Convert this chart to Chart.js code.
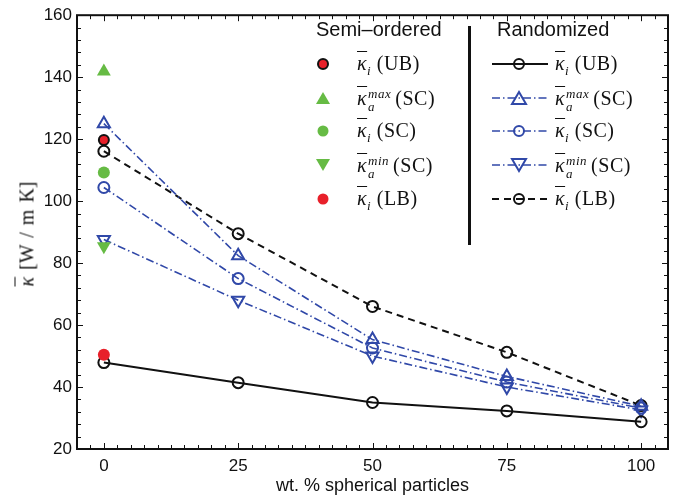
<!DOCTYPE html>
<html>
<head>
<meta charset="utf-8">
<script src="https://cdn.jsdelivr.net/npm/chart.js@4/dist/chart.umd.min.js"></script>
<style>
  body { margin: 0; background: #fff; }
  #wrap { position: relative; width: 682px; height: 497px; }
  .lg { position: absolute; font-family: "Liberation Serif", serif; font-size: 20px; color: #111; white-space: nowrap; line-height: 1; letter-spacing: 0.5px; }
  .ttl { position: absolute; font-family: "Liberation Sans", Arial, sans-serif; font-size: 20px; color: #111; line-height: 1; }
  .k { font-style: italic; text-decoration: overline; text-decoration-thickness: 1px; }
  .ss { display: inline-block; vertical-align: middle; font-style: italic; font-size: 13px; line-height: 1; margin: 0 4px 0 1px; letter-spacing: 0.5px; }
  .ss span { display: block; }
  sub { font-style: italic; font-size: 13px; }
  .mk { position: absolute; }
  #ylab { position: absolute; left: 27px; top: 234px; transform: translate(-50%, -50%) rotate(-90deg); font-family: "Liberation Serif", serif; font-size: 20px; white-space: nowrap; color: #111; word-spacing: 2px; }
</style>
</head>
<body>
<div id="wrap">
  <canvas id="chart" width="682" height="497"></canvas>
  <div id="ylab"><span class="k">κ</span> [W / m K]</div>
  <div id="legend"></div>
</div>
<script>
// x positions (wt. % spherical particles)
const xVals = [0, 25, 50, 75, 100];

// randomized series
const ubRand = [47.9, 41.4, 35.0, 32.3, 28.8];
const lbRand = [116.1, 89.5, 66.0, 51.2, 34.0];
const maxRand = [125.0, 82.4, 55.3, 43.4, 33.8];
const scRand = [104.4, 75.0, 52.6, 41.6, 33.2];
const minRand = [87.6, 68.0, 50.0, 40.0, 32.6];

// semi-ordered (only at 0 %)
const semiX = 0;
const ubSemi = 119.7;
const maxSemi = 141.8;
const scSemi = 109.2;
const minSemi = 85.4;
const lbSemi = 50.4;

const blue = '#3048a8';
const green = '#66bb44';
const red = '#e8202a';

function pts(ys) {
    return ys.map((y, i) => ({ x: xVals[i], y: y }));
}

function semi(y, style, color, r, border, bw, rot) {
    return {
        data: [{ x: semiX, y: y }],
        showLine: false,
        pointStyle: style,
        pointRadius: r,
        pointRotation: rot || 0,
        pointBackgroundColor: color,
        pointBorderColor: border || color,
        pointBorderWidth: bw || 0
    };
}

function rand(ys, color, dash, style, r, rot, width) {
    return {
        data: pts(ys),
        borderColor: color,
        borderWidth: width,
        borderDash: dash,
        tension: 0,
        fill: false,
        pointStyle: style,
        pointRadius: r,
        pointRotation: rot || 0,
        pointBackgroundColor: 'rgba(0,0,0,0)',
        pointBorderColor: color,
        pointBorderWidth: 2
    };
}

const dashDot = [8, 3, 1.5, 3];

// inward ticks + box, MATLAB style
const boxTicks = {
    id: 'boxTicks',
    afterDraw(chart) {
        const { ctx, chartArea: a, scales } = chart;
        const xs = scales.x, ys = scales.y;
        ctx.save();
        ctx.strokeStyle = '#111';
        ctx.lineWidth = 1;
        for (let v = -5; v <= 105; v += 2.5) {
            const px = Math.round(xs.getPixelForValue(v)) + 0.5;
            const len = v % 25 === 0 ? 6 : 4;
            ctx.beginPath();
            ctx.moveTo(px, a.bottom); ctx.lineTo(px, a.bottom - len);
            ctx.moveTo(px, a.top); ctx.lineTo(px, a.top + len);
            ctx.stroke();
        }
        for (let v = 20; v <= 160; v += 4) {
            const py = Math.round(ys.getPixelForValue(v)) + 0.5;
            const len = v % 20 === 0 ? 6 : 4;
            ctx.beginPath();
            ctx.moveTo(a.left, py); ctx.lineTo(a.left + len, py);
            ctx.moveTo(a.right, py); ctx.lineTo(a.right - len, py);
            ctx.stroke();
        }
        ctx.lineWidth = 2;
        ctx.strokeRect(a.left, a.top, a.right - a.left, a.bottom - a.top);
        ctx.restore();
    }
};

new Chart(document.getElementById('chart'), {
    type: 'line',
    data: {
        datasets: [
            semi(ubSemi, 'circle', red, 5, '#111', 2),
            semi(maxSemi, 'triangle', green, 8),
            semi(scSemi, 'circle', green, 6),
            semi(minSemi, 'triangle', green, 8, null, 0, 180),
            semi(lbSemi, 'circle', red, 6),
            rand(ubRand, '#111', [], 'circle', 5.5, 0, 2),
            rand(maxRand, blue, dashDot, 'triangle', 7, 0, 1.6),
            rand(scRand, blue, dashDot, 'circle', 5.5, 0, 1.6),
            rand(minRand, blue, dashDot, 'triangle', 7, 180, 1.6),
            rand(lbRand, '#111', [7, 5], 'circle', 5.5, 0, 2)
        ]
    },
    options: {
        responsive: false,
        animation: false,
        devicePixelRatio: 1,
        layout: { padding: { left: 0, top: 12, right: 14, bottom: 0 } },
        plugins: { legend: { display: false }, tooltip: { enabled: false } },
        scales: {
            x: {
                type: 'linear',
                min: -5,
                max: 105,
                afterBuildTicks: s => { s.ticks = xVals.map(v => ({ value: v })); },
                afterFit: s => { s.height = 48; },
                grid: { display: false, drawTicks: false },
                border: { display: false },
                ticks: { color: '#111', padding: 7, font: { family: 'Liberation Sans', size: 17 } },
                title: {
                    display: true,
                    text: 'wt. % spherical particles',
                    color: '#111',
                    padding: { top: 0, bottom: 0 },
                    font: { family: 'Liberation Sans', size: 18 }
                }
            },
            y: {
                min: 20,
                max: 160,
                afterFit: s => { s.width = 77; },
                grid: { display: false, drawTicks: false },
                border: { display: false },
                ticks: { stepSize: 20, color: '#111', padding: 5, font: { family: 'Liberation Sans', size: 17 } }
            }
        }
    },
    plugins: [boxTicks]
});

// legend (HTML overlay)
const k = '<span class="k">κ</span>';
const labels = [
    k + '<sub>i</sub> (UB)',
    k + '<span class="ss"><span>max</span><span>a</span></span>(SC)',
    k + '<sub>i</sub> (SC)',
    k + '<span class="ss"><span>min</span><span>a</span></span>(SC)',
    k + '<sub>i</sub> (LB)'
];
const rowY = [64, 98, 131, 165, 199];

function circ(fill, stroke, r, sw) {
    return `<circle cx="10" cy="10" r="${r}" fill="${fill}" stroke="${stroke}" stroke-width="${sw}"/>`;
}
function tri(fill, stroke, down) {
    const p = down ? '3,4 17,4 10,16' : '3,16 17,16 10,4';
    return `<polygon points="${p}" fill="${fill}" stroke="${stroke}" stroke-width="${fill === 'none' ? 2 : 0}"/>`;
}
const semiMarks = [
    circ(red, '#111', 5, 2),
    tri(green, 'none', false),
    circ(green, 'none', 5.5, 0),
    tri(green, 'none', true),
    circ(red, 'none', 5.5, 0)
];
const randMarks = [
    { c: '#111', d: '', w: 2, m: circ('none', '#111', 5, 2) },
    { c: blue, d: '8 3 1.5 3', w: 1.6, m: tri('none', blue, false) },
    { c: blue, d: '8 3 1.5 3', w: 1.6, m: circ('none', blue, 5, 2) },
    { c: blue, d: '8 3 1.5 3', w: 1.6, m: tri('none', blue, true) },
    { c: '#111', d: '7 5', w: 2, m: circ('none', '#111', 5, 2) }
];

let html = '';
html += '<div class="ttl" style="left:316px;top:19px">Semi–ordered</div>';
html += '<div class="ttl" style="left:497px;top:19px">Randomized</div>';
html += '<div style="position:absolute;left:468px;top:26px;width:3px;height:219px;background:#111"></div>';
rowY.forEach((y, i) => {
    html += `<svg class="mk" style="left:313px;top:${y - 10}px" width="20" height="20">${semiMarks[i]}</svg>`;
    html += `<div class="lg" style="left:357px;top:${y - 11}px">${labels[i]}</div>`;
    const r = randMarks[i];
    html += `<svg class="mk" style="left:491px;top:${y - 10}px" width="58" height="20">` +
        `<line x1="1" y1="10" x2="57" y2="10" stroke="${r.c}" stroke-width="${r.w}" stroke-dasharray="${r.d}"/>` +
        `<g transform="translate(18,0)">${r.m}</g></svg>`;
    html += `<div class="lg" style="left:555px;top:${y - 11}px">${labels[i]}</div>`;
});
document.getElementById('legend').innerHTML = html;
</script>
</body>
</html>
